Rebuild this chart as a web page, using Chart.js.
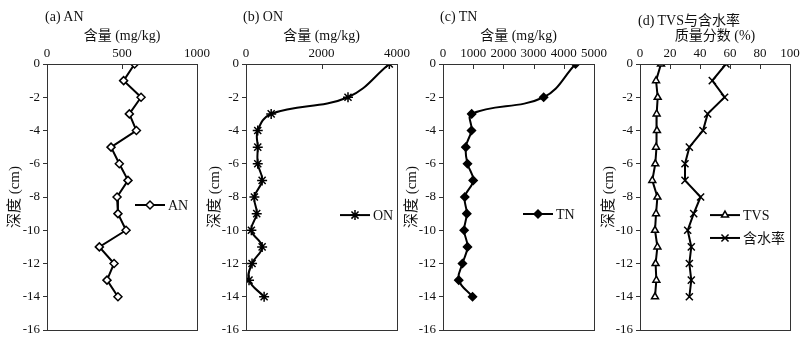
<!DOCTYPE html>
<html>
<head>
<meta charset="utf-8">
<script src="https://cdn.jsdelivr.net/npm/chart.js"></script>
<style>
  body { margin: 0; background: #fff; }
  #wrap { position: relative; width: 805px; height: 341px; overflow: hidden; }
  canvas { position: absolute; top: 0; }
  .lbl { position: absolute; top: 9px; font: 14px "Liberation Serif", "Noto Sans CJK SC", serif; color: #111; white-space: nowrap; }
</style>
</head>
<body>
<div id="wrap">
  <canvas id="cA" width="215" height="341" style="left:0px"></canvas>
  <canvas id="cB" width="215" height="341" style="left:200px"></canvas>
  <canvas id="cC" width="215" height="341" style="left:397px"></canvas>
  <canvas id="cD" width="211" height="341" style="left:594px"></canvas>
  <div class="lbl" style="left:45px">(a) AN</div>
  <div class="lbl" style="left:243px">(b) ON</div>
  <div class="lbl" style="left:440px">(c) TN</div>
  <div class="lbl" style="left:638px">(d) TVS与含水率</div>
</div>
<script>
// depths (cm)
const depthAll = [0, -1, -2, -3, -4, -5, -6, -7, -8, -9, -10, -11, -12, -13, -14];
const depthSkip1 = [0, -2, -3, -4, -5, -6, -7, -8, -9, -10, -11, -12, -13, -14];

// values
const anValues = [584, 511, 627, 549, 596, 427, 482, 540, 467, 473, 527, 349, 447, 400, 473];
const onValues = [3796, 2702, 667, 311, 311, 311, 427, 222, 284, 142, 427, 160, 80, 480];
const tnValues = [4389, 3333, 950, 944, 756, 811, 1000, 722, 789, 700, 811, 644, 522, 978];
const tvsValues = [14, 10.7, 11.8, 11.1, 11.3, 10.7, 10.2, 8.2, 11.6, 10.7, 10, 11.6, 10.4, 10.9, 10];
const waterValues = [57.3, 48.2, 56.4, 45.1, 42, 32.9, 30, 30, 40.4, 35.8, 31.8, 34.2, 32.9, 34.2, 32.9];

const serif = '"Liberation Serif", "Noto Sans CJK SC", serif';

function pts(xs, ys) {
    return xs.map((v, i) => ({ x: v, y: ys[i] }));
}

// border box, inward top ticks, in-plot legend
const boxLegend = {
    id: 'boxLegend',
    afterDatasetsDraw(chart, args, opts) {
        const ctx = chart.ctx;
        const a = chart.chartArea;
        ctx.save();
        ctx.strokeStyle = '#333';
        ctx.lineWidth = 1;
        ctx.strokeRect(Math.round(a.left) + 0.5, Math.round(a.top) + 0.5, Math.round(a.right - a.left), Math.round(a.bottom - a.top));
        const xs = chart.scales.x;
        ctx.beginPath();
        xs.ticks.forEach(t => {
            const px = Math.round(xs.getPixelForValue(t.value)) + 0.5;
            ctx.moveTo(px, a.top);
            ctx.lineTo(px, a.top + 5);
        });
        ctx.stroke();
        chart.data.datasets.forEach((ds, i) => {
            const x0 = a.left + opts.x;
            const y = a.top + (a.bottom - a.top) * opts.ys[i];
            ctx.strokeStyle = ds.borderColor;
            ctx.lineWidth = ds.borderWidth;
            ctx.beginPath();
            ctx.moveTo(x0, y);
            ctx.lineTo(x0 + 30, y);
            ctx.stroke();
            ctx.fillStyle = ds.pointBackgroundColor;
            ctx.strokeStyle = ds.borderColor;
            ctx.lineWidth = ds.pointBorderWidth;
            Chart.helpers.drawPoint(ctx, { pointStyle: ds.pointStyle, radius: ds.pointRadius, rotation: 0, borderWidth: ds.pointBorderWidth }, x0 + 15, y);
            ctx.fillStyle = '#111';
            ctx.font = '14px ' + serif;
            ctx.textBaseline = 'middle';
            ctx.textAlign = 'left';
            ctx.fillText(ds.label, x0 + 33, y + 1);
        });
        ctx.restore();
    }
};

function makePanel(id, datasets, xMax, xStep, xTitle, yWidth, rightPad, legendX, legendYs) {
    new Chart(document.getElementById(id), {
        type: 'scatter',
        data: { datasets },
        options: {
            responsive: false,
            animation: false,
            layout: { padding: { top: 24, bottom: 11, right: rightPad, left: 0 } },
            plugins: {
                legend: { display: false },
                tooltip: { enabled: false },
                boxLegend: { x: legendX, ys: legendYs }
            },
            scales: {
                x: {
                    type: 'linear',
                    position: 'top',
                    min: 0, max: xMax,
                    ticks: {
                        stepSize: xStep, padding: 3, color: '#111', maxRotation: 0, autoSkip: false,
                        font: { family: serif, size: 13 },
                        callback: v => String(v)
                    },
                    grid: { display: true, drawOnChartArea: false, drawTicks: false },
                    border: { display: false },
                    title: { display: true, text: xTitle, color: '#111', padding: { top: 4, bottom: 0 }, font: { family: serif, size: 14 } },
                    afterFit(s) { s.height = 40; s.paddingLeft = 0; s.paddingRight = 0; }
                },
                y: {
                    type: 'linear',
                    min: -16, max: 0,
                    ticks: { stepSize: 2, padding: 3, color: '#111', font: { family: serif, size: 13 } },
                    grid: { drawOnChartArea: false, tickLength: 4, color: '#333' },
                    border: { display: false },
                    title: { display: true, text: '深度 (cm)', color: '#111', padding: { top: 6, bottom: 0 }, font: { family: serif, size: 15 } },
                    afterFit(s) { s.width = yWidth; s.paddingTop = 0; s.paddingBottom = 0; }
                }
            }
        },
        plugins: [boxLegend]
    });
}

function series(label, data, style, fill, radius, tension) {
    return {
        label, data, showLine: true,
        borderColor: '#000', borderWidth: 2,
        pointStyle: style, pointRadius: radius, pointBorderWidth: 1.5,
        pointBackgroundColor: fill, pointBorderColor: '#000',
        tension: tension
    };
}

makePanel('cA', [series('AN', pts(anValues, depthAll), 'rectRot', '#fff', 4, 0)],
    1000, 500, '含量 (mg/kg)', 47, 18, 88, [0.53]);
makePanel('cB', [series('ON', pts(onValues, depthSkip1), 'star', '#000', 5, 0.4)],
    4000, 2000, '含量 (mg/kg)', 46, 18, 94, [0.568]);
makePanel('cC', [series('TN', pts(tnValues, depthSkip1), 'rectRot', '#000', 4, 0.4)],
    5000, 1000, '含量 (mg/kg)', 46, 18, 80, [0.564]);
makePanel('cD', [
    series('TVS', pts(tvsValues, depthAll), 'triangle', '#fff', 4, 0),
    series('含水率', pts(waterValues, depthAll), 'crossRot', '#000', 5, 0)
], 100, 20, '质量分数 (%)', 46, 15, 70, [0.568, 0.654]);
</script>
</body>
</html>
